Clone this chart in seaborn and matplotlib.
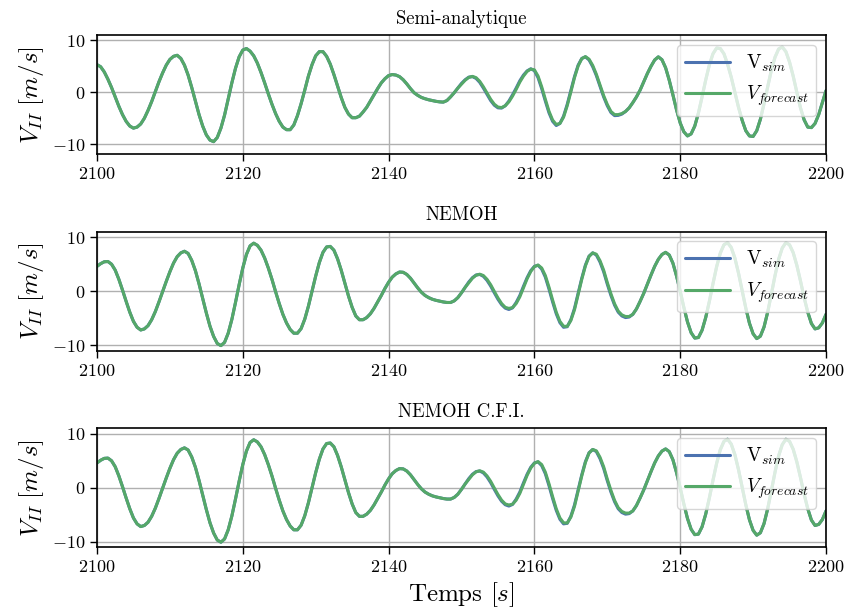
import numpy as np
import pandas as pd
import seaborn as sns
import matplotlib
matplotlib.use("Agg")
import matplotlib.pyplot as plt

# Step 1: Data (one sample every 0.5 s from 2100 to 2200 s)
time = np.linspace(2100, 2200, 201)

sim_semi = [
    5.3, 4.9, 3.9, 2.5, 0.9, -0.9, -2.7, -4.3, -5.6, -6.5,          # 2100
    -6.9, -6.7, -6.1, -5.0, -3.5, -1.8, 0.1, 2.0, 3.7, 5.2,         # 2105
    6.3, 6.9, 7.1, 6.5, 5.2, 3.3, 0.9, -1.7, -4.3, -6.5,            # 2110
    -8.2, -9.2, -9.5, -8.7, -6.9, -4.4, -1.3, 1.8, 4.6, 6.8,        # 2115
    8.1, 8.4, 7.9, 7.0, 5.6, 3.8, 1.8, -0.3, -2.3, -4.1,            # 2120
    -5.6, -6.7, -7.2, -7.2, -6.3, -4.5, -2.2, 0.4, 3.1, 5.3,        # 2125
    7.0, 7.8, 7.8, 6.9, 5.4, 3.4, 1.2, -1.0, -2.9, -4.2,            # 2130
    -4.9, -4.9, -4.6, -3.8, -2.9, -1.7, -0.5, 0.7, 1.8, 2.6,        # 2135
    3.2, 3.4, 3.3, 3.0, 2.4, 1.6, 0.7, -0.1, -0.6, -1.0,            # 2140
    -1.25, -1.45, -1.6, -1.75, -1.85, -1.9, -1.6, -0.9, -0.1, 0.8,  # 2145
    1.7, 2.4, 2.9, 3.0, 2.65, 1.9, 0.8, -0.4, -1.6, -2.5,           # 2150
    -3.0, -3.05, -2.6, -1.7, -0.5, 0.8, 2.2, 3.3, 4.1, 4.5,         # 2155
    4.15, 2.8, 0.7, -1.7, -3.95, -5.6, -6.4, -6.0, -4.6, -2.35,     # 2160
    0.3, 3.0, 5.2, 6.5, 6.8, 6.2, 4.9, 3.2, 1.15, -0.9,             # 2165
    -2.6, -3.9, -4.5, -4.45, -4.2, -3.7, -3.0, -2.0, -0.9, 0.4,     # 2170
    2.0, 3.6, 5.0, 6.2, 6.8, 6.25, 4.7, 2.3, -0.5, -3.4,            # 2175
    -5.9, -7.6, -8.4, -8.0, -6.5, -4.0, -0.9, 2.35, 5.25, 7.4,      # 2180
    8.5, 8.4, 7.4, 5.4, 2.9, 0.0, -2.9, -5.4, -7.4, -8.4,           # 2185
    -8.5, -7.4, -5.2, -2.2, 1.0, 4.2, 6.7, 8.3, 8.7, 7.8,           # 2190
    5.8, 3.1, 0.0, -3.0, -5.3, -6.7, -6.8, -6.0, -4.3, -2.0,        # 2195
    0.3,                                                            # 2200
]

# forecast differs from sim only between 2150 and 2172 s
forecast_semi_window = [
    1.55, 2.3, 2.85, 3.05, 2.8, 2.1, 1.05, -0.15, -1.35, -2.3,
    -2.85, -2.95, -2.6, -1.85, -0.75, 0.55, 1.95, 3.1, 4.0, 4.45,
    4.3, 3.1, 1.05, -1.35, -3.65, -5.35, -6.2, -6.0, -4.8, -2.6,
    0.05, 2.8, 5.05, 6.45, 6.85, 6.35, 5.15, 3.45, 1.4, -0.65,
    -2.35, -3.7, -4.3, -4.3, -4.1,
]
window_semi = (2150, 2172)

sim_nemoh = [
    4.6, 5.1, 5.45, 5.5, 5.0, 3.9, 2.2, 0.2, -1.9, -3.9,            # 2100
    -5.6, -6.7, -7.2, -7.0, -6.4, -5.3, -3.8, -2.0, -0.1, 1.8,      # 2105
    3.6, 5.2, 6.4, 7.1, 7.4, 7.0, 5.7, 3.8, 1.35, -1.35,            # 2110
    -4.05, -6.5, -8.4, -9.7, -10.1, -9.5, -7.8, -5.25, -2.1, 1.2,   # 2115
    4.3, 6.8, 8.4, 8.9, 8.5, 7.6, 6.15, 4.3, 2.2, -0.1,             # 2120
    -2.3, -4.3, -5.9, -7.1, -7.8, -7.8, -6.95, -5.2, -2.8, 0.0,     # 2125
    2.8, 5.3, 7.2, 8.2, 8.3, 7.6, 6.0, 3.9, 1.5, -0.9,              # 2130
    -3.0, -4.6, -5.3, -5.3, -4.9, -4.2, -3.2, -2.0, -0.8, 0.5,      # 2135
    1.65, 2.6, 3.2, 3.55, 3.5, 3.1, 2.4, 1.5, 0.6, -0.2,            # 2140
    -0.8, -1.2, -1.5, -1.7, -1.85, -2.0, -2.1, -2.1, -1.8, -1.2,    # 2145
    -0.3, 0.7, 1.7, 2.5, 3.0, 3.1, 2.75, 2.0, 0.95, -0.3,           # 2150
    -1.5, -2.5, -3.15, -3.4, -3.1, -2.1, -0.8, 0.9, 2.5, 3.8,       # 2155
    4.6, 4.8, 4.1, 2.6, 0.4, -2.0, -4.2, -5.85, -6.7, -6.6,         # 2160
    -5.3, -3.2, -0.4, 2.4, 4.85, 6.5, 7.1, 6.7, 5.4, 3.6,           # 2165
    1.3, -0.8, -2.6, -3.9, -4.6, -4.9, -4.8, -4.3, -3.3, -1.9,      # 2170
    -0.4, 1.3, 3.0, 4.6, 5.9, 6.8, 7.2, 6.7, 5.2, 2.8,              # 2175
    0.0, -3.0, -5.7, -7.7, -8.7, -8.6, -7.25, -4.9, -1.9, 1.4,      # 2180
    4.55, 7.05, 8.6, 9.0, 8.1, 6.15, 3.35, 0.1, -3.15, -5.95,       # 2185
    -7.9, -8.8, -8.35, -6.65, -3.9, -0.6, 2.85, 5.9, 8.0, 9.0,      # 2190
    8.6, 7.15, 4.8, 1.9, -1.2, -3.9, -6.0, -7.0, -6.8, -5.9,        # 2195
    -4.3,                                                           # 2200
]

forecast_nemoh_window = [
    1.55, 2.4, 2.95, 3.15, 2.9, 2.2, 1.2, -0.05, -1.25, -2.3,
    -3.0, -3.2, -3.05, -2.3, -1.05, 0.65, 2.3, 3.65, 4.55, 4.85,
    4.3, 2.9, 0.75, -1.65, -3.9, -5.6, -6.5, -6.55, -5.45, -3.45,
    -0.65, 2.2, 4.7, 6.45, 7.1, 6.85, 5.65, 3.9, 1.6, -0.5,
    -2.35, -3.7, -4.4, -4.7, -4.7,
]
window_nemoh = (2151, 2173)

# NEMOH C.F.I. gives the same curves as NEMOH in the reference
sim_cfi = sim_nemoh
forecast_cfi_window = forecast_nemoh_window
window_cfi = window_nemoh

titles = ["Semi-analytique", "NEMOH", "NEMOH C.F.I."]
ylims = [(-11.9, 11.0), (-11.05, 11.05), (-11.05, 11.05)]


def build_frame(sim, fc_window, window):
    sim = np.array(sim)
    fc = sim.copy()
    mask = (time >= window[0]) & (time <= window[1])
    fc[mask] = fc_window
    return pd.DataFrame({"t": time, "sim": sim, "forecast": fc})


frames = [
    build_frame(sim_semi, forecast_semi_window, window_semi),
    build_frame(sim_nemoh, forecast_nemoh_window, window_nemoh),
    build_frame(sim_cfi, forecast_cfi_window, window_cfi),
]

# Step 2: Style
sns.set_style("ticks")
plt.rcParams["font.family"] = ["serif"]
plt.rcParams["font.serif"] = ["cmr10", "DejaVu Serif"]
plt.rcParams["mathtext.fontset"] = "cm"
plt.rcParams["axes.formatter.use_mathtext"] = True
plt.rcParams["text.color"] = "black"
plt.rcParams["axes.labelcolor"] = "black"
plt.rcParams["axes.edgecolor"] = "black"
plt.rcParams["axes.linewidth"] = 1.2
plt.rcParams["xtick.color"] = "black"
plt.rcParams["ytick.color"] = "black"
plt.rcParams["xtick.major.width"] = 1.0
plt.rcParams["ytick.major.width"] = 1.0

deep = sns.color_palette("deep")
blue, green = deep[0], deep[2]

# Step 3: Plot
fig, axes = plt.subplots(3, 1, figsize=(8.47, 6.14), dpi=100)
fig.subplots_adjust(left=0.1145, right=0.9752, top=0.943, bottom=0.1086, hspace=0.65)

for ax, df, title, ylim in zip(axes, frames, titles, ylims):
    sns.lineplot(data=df, x="t", y="sim", ax=ax, color=blue, linewidth=2.2,
                 label=r"V$_{sim}$")
    sns.lineplot(data=df, x="t", y="forecast", ax=ax, color=green, linewidth=2.2,
                 label=r"$V_{forecast}$")
    ax.set_xlim(2100, 2200)
    ax.set_ylim(*ylim)
    ax.set_xticks([2100, 2120, 2140, 2160, 2180, 2200])
    ax.set_yticks([-10, 0, 10])
    ax.grid(True, color="#b0b0b0", linewidth=1.0)
    ax.set_axisbelow(True)
    ax.tick_params(labelsize=13, length=5)
    ax.set_title(title, fontsize=13.5, pad=8)
    ax.set_xlabel("")
    ax.set_ylabel(r"$V_{II}\ [m/s]$", fontsize=18)
    ax.legend(loc="upper right", fontsize=14, framealpha=0.8, handlelength=2.3)

axes[-1].set_xlabel(r"Temps $[s]$", fontsize=18)

plt.savefig("out.png", dpi=100)
